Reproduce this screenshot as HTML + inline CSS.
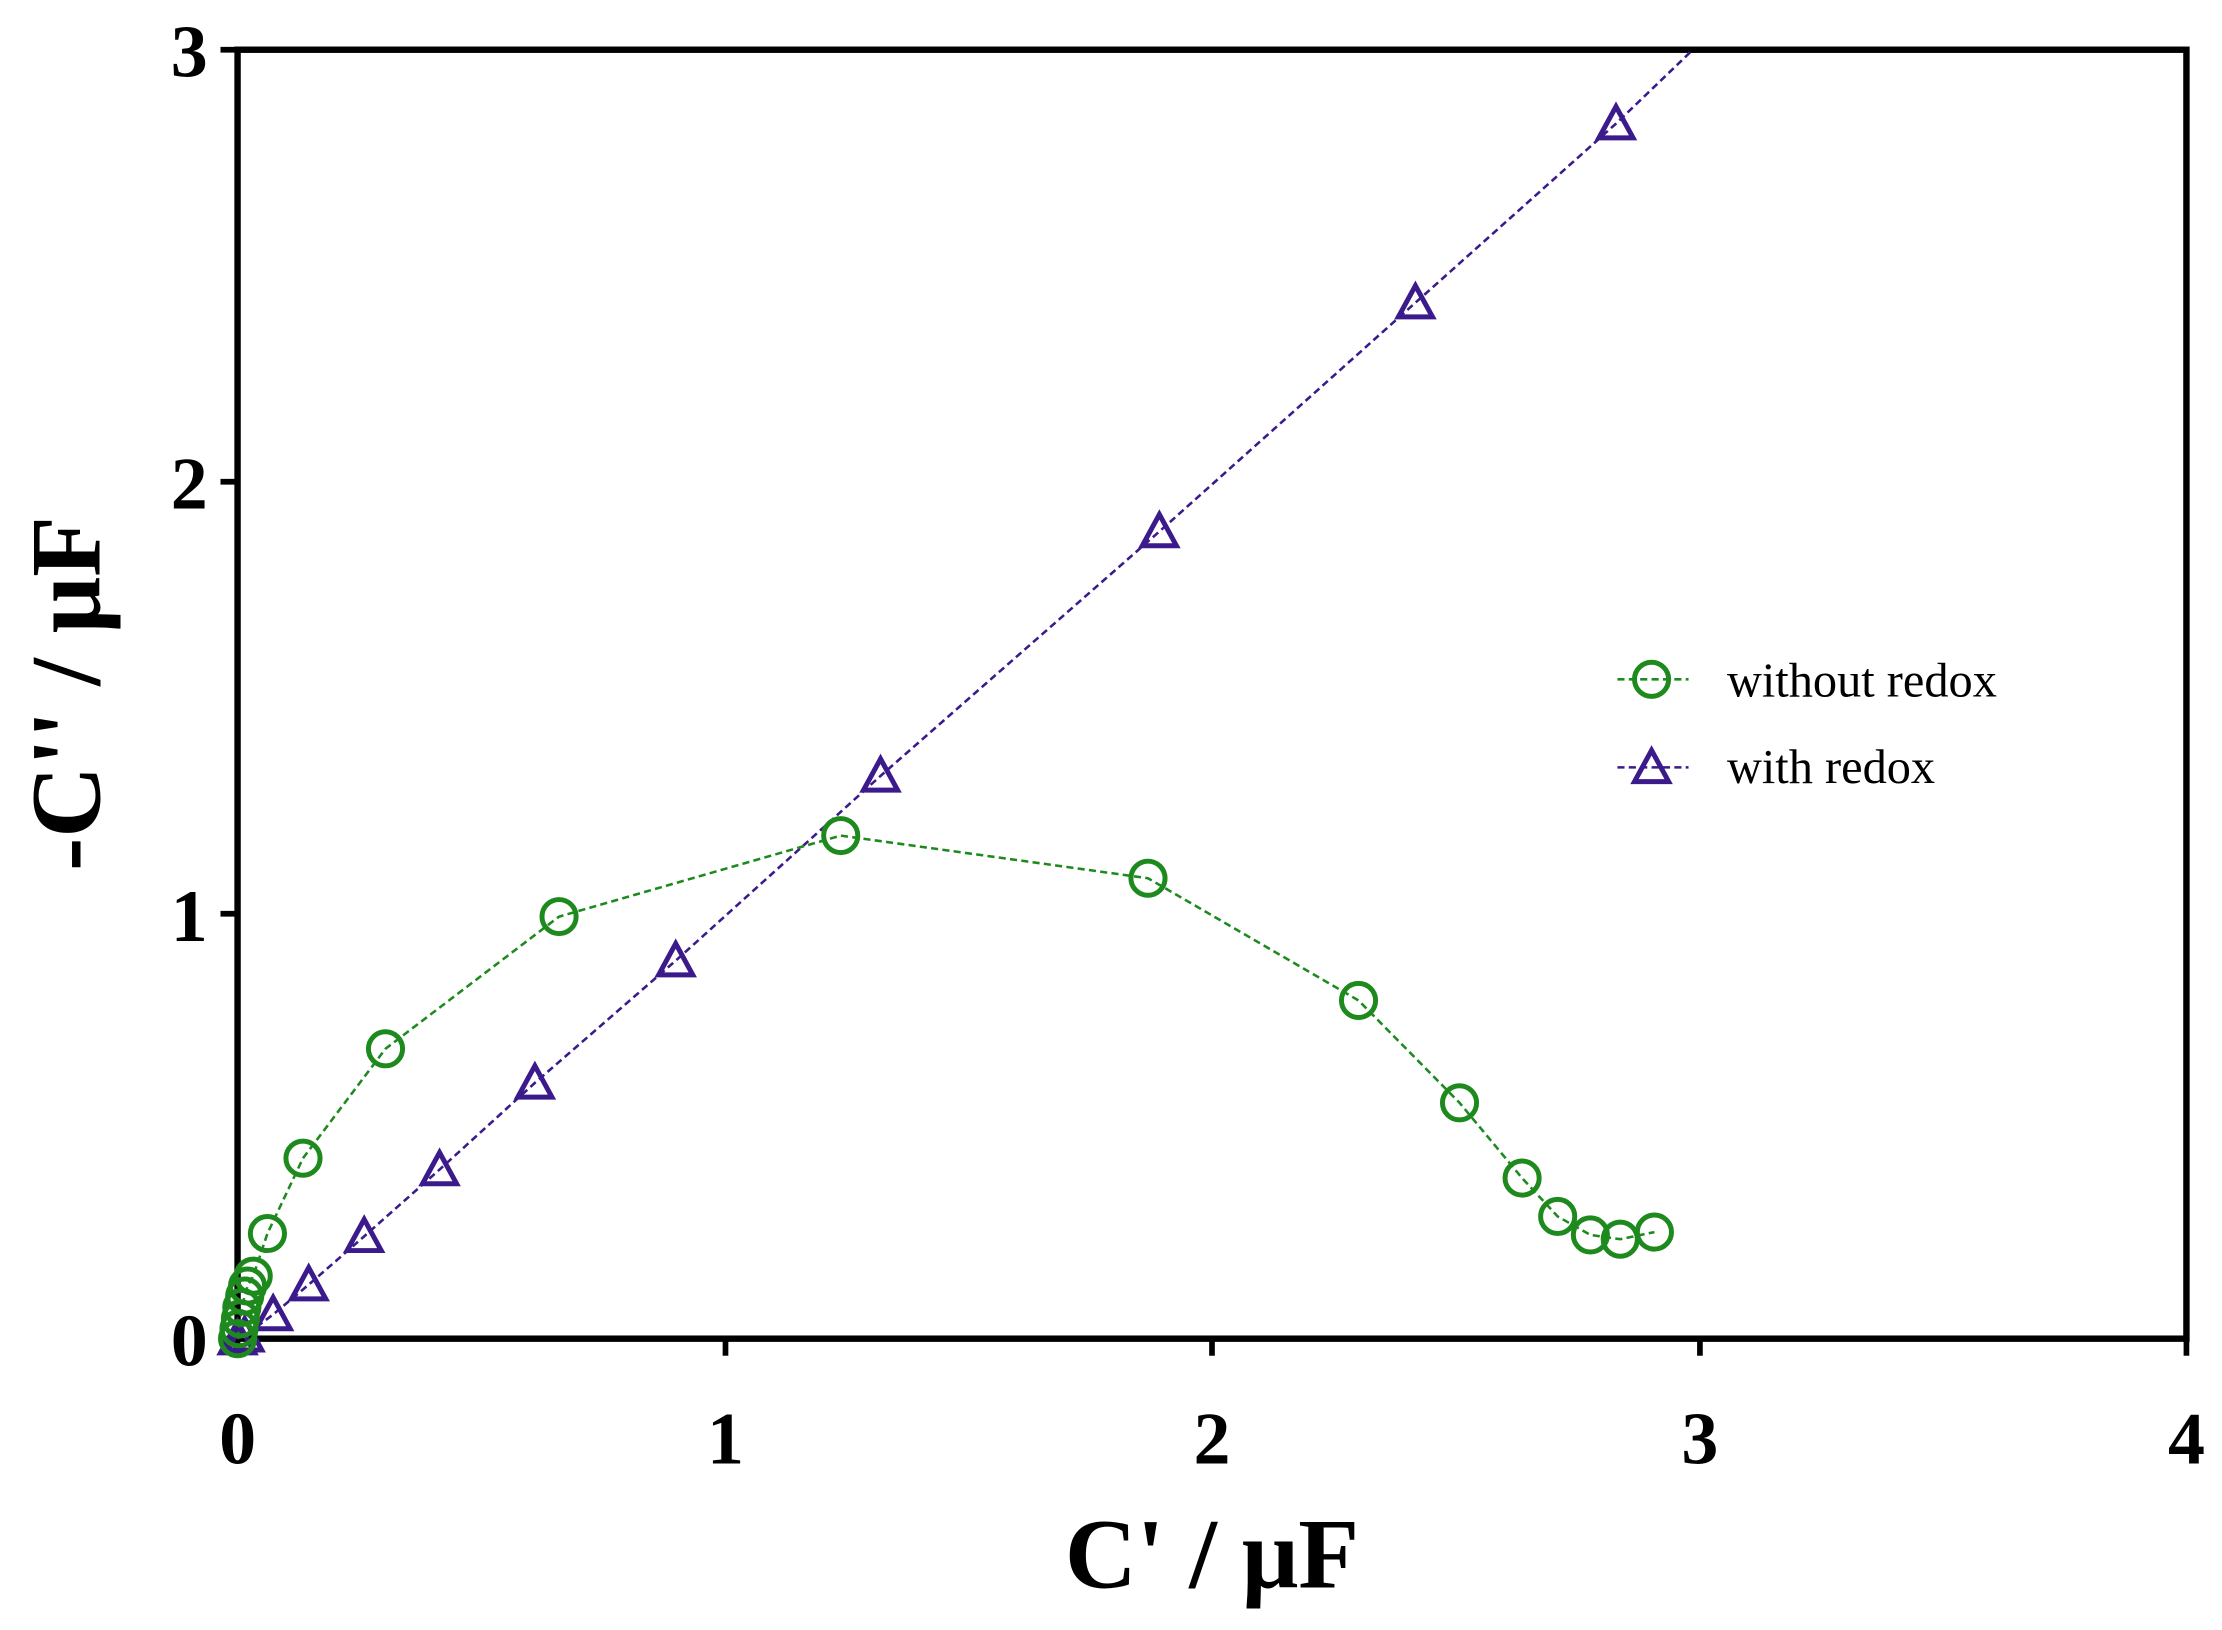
<!DOCTYPE html>
<html><head><style>html,body{margin:0;padding:0;background:#fff;}svg{display:block}</style></head>
<body>
<svg width="2222" height="1630" viewBox="0 0 1562 1147" preserveAspectRatio="none" xmlns="http://www.w3.org/2000/svg" font-family="Liberation Serif, serif">
<rect x="0" y="0" width="1562" height="1147" fill="#fff"/>
<g stroke="#000" stroke-width="4">
<line x1="167" y1="942" x2="167" y2="954"/><line x1="510" y1="942" x2="510" y2="954"/><line x1="852" y1="942" x2="852" y2="954"/><line x1="1195" y1="942" x2="1195" y2="954"/><line x1="1537" y1="942" x2="1537" y2="954"/>
<line x1="155" y1="942" x2="167" y2="942"/><line x1="155" y1="643" x2="167" y2="643"/><line x1="155" y1="339" x2="167" y2="339"/><line x1="155" y1="35" x2="167" y2="35"/>
</g>
<rect x="167" y="35" width="1370" height="907" fill="none" stroke="#000" stroke-width="4.5"/>
<g font-size="52" font-weight="bold" fill="#000">
<text x="167" y="1030" text-anchor="middle">0</text><text x="510" y="1030" text-anchor="middle">1</text><text x="852" y="1030" text-anchor="middle">2</text><text x="1195" y="1030" text-anchor="middle">3</text><text x="1537" y="1030" text-anchor="middle">4</text>
<text x="146" y="961" text-anchor="end">0</text><text x="146" y="662" text-anchor="end">1</text><text x="146" y="358" text-anchor="end">2</text><text x="146" y="54" text-anchor="end">3</text>
</g>
<text x="852" y="1117" font-size="70" font-weight="bold" text-anchor="middle">C' / μF</text>
<text transform="translate(70,488) rotate(-90)" font-size="70" font-weight="bold" text-anchor="middle">-C'' / μF</text>
<polyline fill="none" stroke="#3b1a8c" stroke-width="1.8" stroke-dasharray="5,3" points="167,942 172,940 192,925 217,904 256,870 309,823 376,762 475,676 619,546 815,374 995,213 1136,87 1190,35"/>
<g fill="none" stroke="#3b1a8c" stroke-width="3.5">
<path d="M0,-12 L12,10 L-12,10 Z" transform="translate(167,942)"/>
<path d="M0,-12 L12,10 L-12,10 Z" transform="translate(172,940)"/>
<path d="M0,-12 L12,10 L-12,10 Z" transform="translate(192,925)"/>
<path d="M0,-12 L12,10 L-12,10 Z" transform="translate(217,904)"/>
<path d="M0,-12 L12,10 L-12,10 Z" transform="translate(256,870)"/>
<path d="M0,-12 L12,10 L-12,10 Z" transform="translate(309,823)"/>
<path d="M0,-12 L12,10 L-12,10 Z" transform="translate(376,762)"/>
<path d="M0,-12 L12,10 L-12,10 Z" transform="translate(475,676)"/>
<path d="M0,-12 L12,10 L-12,10 Z" transform="translate(619,546)"/>
<path d="M0,-12 L12,10 L-12,10 Z" transform="translate(815,374)"/>
<path d="M0,-12 L12,10 L-12,10 Z" transform="translate(995,213)"/>
<path d="M0,-12 L12,10 L-12,10 Z" transform="translate(1136,87)"/>
</g>
<polyline fill="none" stroke="#1e8a1e" stroke-width="1.8" stroke-dasharray="5,3" points="167,942 168,935 169,928 170,920 172,912 174,905 178,898 188,868 213,815 271,738 393,645 591,588 807,618 955,704 1026,776 1070,829 1095,856 1118,869 1139,872 1163,867"/>
<g fill="none" stroke="#1e8a1e" stroke-width="3.5">
<circle cx="167" cy="942" r="12"/><circle cx="168" cy="935" r="12"/><circle cx="169" cy="928" r="12"/><circle cx="170" cy="920" r="12"/><circle cx="172" cy="912" r="12"/><circle cx="174" cy="905" r="12"/><circle cx="178" cy="898" r="12"/><circle cx="188" cy="868" r="12"/><circle cx="213" cy="815" r="12"/><circle cx="271" cy="738" r="12"/><circle cx="393" cy="645" r="12"/><circle cx="591" cy="588" r="12"/><circle cx="807" cy="618" r="12"/><circle cx="955" cy="704" r="12"/><circle cx="1026" cy="776" r="12"/><circle cx="1070" cy="829" r="12"/><circle cx="1095" cy="856" r="12"/><circle cx="1118" cy="869" r="12"/><circle cx="1139" cy="872" r="12"/><circle cx="1163" cy="867" r="12"/>
</g>
<line x1="1137" y1="478" x2="1187" y2="478" stroke="#1e8a1e" stroke-width="1.8" stroke-dasharray="5,3"/>
<circle cx="1161" cy="478" r="12" fill="none" stroke="#1e8a1e" stroke-width="3.5"/>
<line x1="1137" y1="540" x2="1187" y2="540" stroke="#3b1a8c" stroke-width="1.8" stroke-dasharray="5,3"/>
<path d="M0,-12 L12,10 L-12,10 Z" transform="translate(1161,540)" fill="none" stroke="#3b1a8c" stroke-width="3.5"/>
<text x="1214" y="490" font-size="34">without redox</text>
<text x="1214" y="551" font-size="34">with redox</text>
</svg>
</body></html>
